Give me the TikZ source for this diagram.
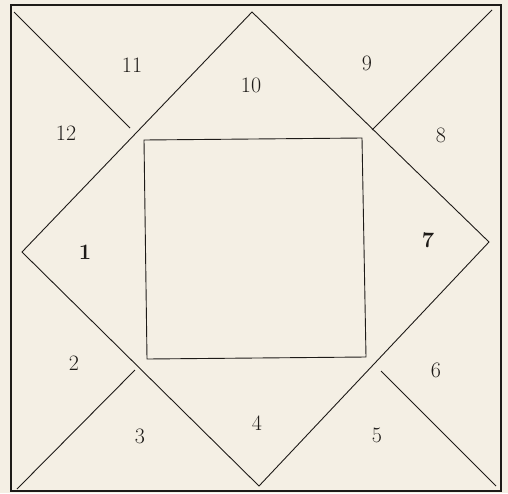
\documentclass[tikz,border=0pt]{standalone}
\usetikzlibrary{calc}
\definecolor{paper}{RGB}{244,239,228}
\definecolor{ink}{RGB}{30,27,24}
\tikzset{
    house/.style={font=\fontsize{22}{26}\selectfont, text=ink},
    chartline/.style={draw=ink, line width=0.9pt}
}
\begin{document}
\begin{tikzpicture}[x=1pt, y=-1pt]

    \begin{scope}
        \fill[paper] (0,0) rectangle (508,493);
        \useasboundingbox (0,0) rectangle (508,493);

        % frame
        \coordinate (NW) at (11,5);
        \coordinate (SE) at (501,491);
        \draw[chartline, line width=1.1pt] (NW) rectangle (SE);

        % diamond
        \coordinate (T) at (252,12);
        \coordinate (R) at (489,242);
        \coordinate (B) at (259,486);
        \coordinate (L) at (22,252);
        \draw[chartline] (T) -- (R) -- (B) -- (L) -- cycle;

        % corner lines
        \draw[chartline] (14,12) -- (130,128);
        \draw[chartline] (492,10) -- (372,130);
        \draw[chartline] (17,489) -- (135,370);
        \draw[chartline] (381,371) -- (496,486);

        % inner square
        \draw[chartline] (144,140) -- (362,138) -- (366,357) -- (147,359) -- cycle;

        % houses
        \node[house] (h1) at (85,252) {\bfseries 1};
        \node[house] (h2) at (74,363) {2};
        \node[house] (h3) at (140,436) {3};
        \node[house] (h4) at (257,423) {4};
        \node[house] (h5) at (377,435) {5};
        \node[house] (h6) at (436,370) {6};
        \node[house] (h7) at (428,240) {\bfseries 7};
        \node[house] (h8) at (441,135) {8};
        \node[house] (h9) at (367,63) {9};
        \node[house] (h10) at (251,85) {10};
        \node[house] (h11) at (132,65) {11};
        \node[house] (h12) at (66,133) {12};
    \end{scope}

\end{tikzpicture}
\end{document}
